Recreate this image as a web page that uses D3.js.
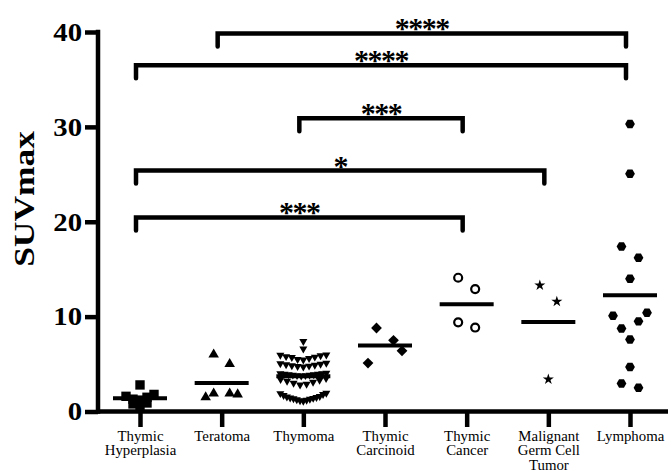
<!DOCTYPE html>
<html>
<head>
<meta charset="utf-8">
<script src="https://cdn.jsdelivr.net/npm/d3@7"></script>
<style>
  body { margin: 0; background: #fff; }
  svg { display: block; }
  text { font-family: "Liberation Serif", "Times New Roman", serif; fill: #000; }
</style>
</head>
<body>
<svg id="chart" width="668" height="473"></svg>
<script>
// ---- data ----
var categories = ["Thymic Hyperplasia", "Teratoma", "Thymoma", "Thymic Carcinoid",
                  "Thymic Cancer", "Malignant Germ Cell Tumor", "Lymphoma"];
var tickLabels = [["Thymic", "Hyperplasia"], ["Teratoma"], ["Thymoma"], ["Thymic", "Carcinoid"],
                  ["Thymic", "Cancer"], ["Malignant", "Germ Cell", "Tumor"], ["Lymphoma"]];

var hyperplasia = [2.8, 1.8, 1.6, 1.5, 1.3, 1.2, 0.9, 0.8, 0.6];
var teratoma = [6.0, 5.0, 1.9, 1.5, 1.9, 1.8];
var thymoma = [7.4, 6.6,
  5.45, 5.5, 5.6, 5.7, 5.75, 5.8, 5.9, 5.95, 5.98,
  4.7, 4.75, 4.8, 4.85, 4.9, 4.95, 5.0, 5.05, 5.1,
  3.75, 3.8, 3.8, 3.85, 3.85, 3.9, 3.9, 3.95, 3.95, 4.0, 4.0, 4.05,
  2.8, 2.9, 3.0, 3.1, 3.2, 3.3, 3.4, 3.5,
  1.1, 1.15, 1.2, 1.25, 1.3, 1.35, 1.4, 1.45, 1.5, 1.55, 1.6, 1.7, 1.8, 1.9, 1.95];
var carcinoid = [8.8, 7.5, 6.4, 5.1];
var cancer = [14.1, 12.9, 9.4, 8.85];
var germCell = [13.3, 11.6, 3.4];
var lymphoma = [30.3, 25.05, 17.4, 16.2, 14.0, 10.4, 10.1, 9.5, 8.75, 7.6, 4.7, 2.95, 2.5];

var yTicks = [0, 10, 20, 30, 40];

var bracketFrom  = ["Teratoma", "Thymic Hyperplasia", "Thymoma", "Thymic Hyperplasia", "Thymic Hyperplasia"];
var bracketTo    = ["Lymphoma", "Lymphoma", "Thymic Cancer", "Malignant Germ Cell Tumor", "Thymic Cancer"];
var bracketLevel = [39.85, 36.5, 30.9, 25.4, 20.45];
var bracketStars = ["****", "****", "***", "*", "***"];

// ---- marker styles, one per category ----
var hexagon = {
  draw: function (ctx, size) {
    var r = Math.sqrt(2 * size / (3 * Math.sqrt(3)));
    for (var i = 0; i < 6; i++) {
      var a = i * Math.PI / 3;
      if (i === 0) ctx.moveTo(r * Math.cos(a), r * Math.sin(a));
      else ctx.lineTo(r * Math.cos(a), r * Math.sin(a));
    }
    ctx.closePath();
  }
};
// mode "rows": dense rows, lowest value in the middle; "chain": sparse pairs / small groups
var markers = [
  {type: d3.symbolSquare,   size: 88, rot: 0,   mode: "rows",  gap: 2.5,  step: 7},
  {type: d3.symbolTriangle, size: 48, rot: 0,   mode: "chain", gap: 16.5, step: 8},
  {type: d3.symbolTriangle, size: 28, rot: 180, mode: "rows",  gap: 2,    step: 6.5},
  {type: d3.symbolSquare,   size: 58, rot: 45,  mode: "chain", gap: 16.5, step: 8.5},
  {type: d3.symbolCircle,   size: 50, rot: 0,   mode: "chain", gap: 16.5, step: 8.5, open: true},
  {type: d3.symbolStar,     size: 38, rot: 0,   mode: "chain", gap: 16.5, step: 8.5},
  {type: hexagon,           size: 62, rot: 0,   mode: "chain", gap: 16.5, step: 8.5}
];
var seriesValues = [hyperplasia, teratoma, thymoma, carcinoid, cancer, germCell, lymphoma];

var svg = d3.select("#chart");
var W = 668, H = 473;

var x = d3.scalePoint().domain(categories).range([140, 630]);
var xBracket = d3.scalePoint().domain(categories).range([136, 626]);
var y = d3.scaleLinear().domain([0, 40]).range([411.5, 32]);

var AXIS_W = 4.5;

// spread points of one column sideways (dot plot)
function spread(values, opt) {
  var pts = values.map(function (v) { return {v: v, py: y(v)}; })
    .sort(function (a, b) { return a.v - b.v; });
  var groups = [];
  pts.forEach(function (p, i) {
    if (i > 0 && pts[i - 1].py - p.py < opt.gap) groups[groups.length - 1].push(p);
    else groups.push([p]);
  });
  var maxW = 46;
  groups.forEach(function (g) {
    var n = g.length, slots = [];
    if (opt.mode === "chain" && n % 2 === 0) g = g.slice().reverse();
    for (var k = 0; k < n; k++) {
      var s;
      if (n % 2 === 1) {
        s = k === 0 ? 0 : (k % 2 ? -1 : 1) * Math.ceil(k / 2);
      } else if (opt.mode === "rows") {
        s = (k % 2 === 0 ? -1 : 1) * (Math.floor(k / 2) + 0.5);
      } else {
        var p = Math.floor(k / 2);
        var sign = (p % 2 === 0) ? (k % 2 === 0 ? -1 : 1) : (k % 2 === 0 ? 1 : -1);
        s = sign * (p + 1);
      }
      slots.push(s);
    }
    var span = d3.max(slots) - d3.min(slots);
    var step = span > 0 ? Math.min(opt.step, maxW / span) : 0;
    g.forEach(function (p, k) { p.dx = slots[k] * step; });
  });
  return pts;
}

// ---- y axis ----
var yAxis = svg.append("g")
  .attr("transform", "translate(98,0)")
  .call(d3.axisLeft(y).tickValues(yTicks).tickSize(13).tickSizeOuter(0));
yAxis.select(".domain").remove();
yAxis.selectAll(".tick line").attr("stroke", "#000").attr("stroke-width", AXIS_W);
yAxis.selectAll(".tick text")
  .attr("x", 0).attr("dy", "0.33em")
  .attr("transform", "translate(-16,0) scale(1.15,1)")
  .style("font-family", '"Liberation Serif", serif')
  .style("font-weight", "bold").style("font-size", "25px")
  .attr("fill", "#000");

svg.append("line")
  .attr("x1", 98).attr("x2", 98).attr("y1", y(40)).attr("y2", y(0))
  .attr("stroke", "#000").attr("stroke-width", AXIS_W).attr("stroke-linecap", "square");

svg.append("text")
  .attr("transform", "translate(34,199) rotate(-90) scale(1.18,1)")
  .attr("text-anchor", "middle")
  .style("font-weight", "bold").style("font-size", "30px")
  .text("SUVmax");

// ---- x axis ----
var xAxis = svg.append("g")
  .attr("transform", "translate(0," + y(0) + ")")
  .call(d3.axisBottom(x).tickSize(15.5).tickSizeOuter(0).tickFormat(""));
xAxis.select(".domain").remove();
xAxis.selectAll(".tick line").attr("stroke", "#000").attr("stroke-width", AXIS_W);
xAxis.selectAll(".tick text").remove();
xAxis.selectAll(".tick").each(function (d, i) {
  var t = d3.select(this).append("text")
    .attr("text-anchor", "middle")
    .attr("transform", "scale(1.06,1)")
    .style("font-size", "14px");
  tickLabels[i].forEach(function (line, j) {
    t.append("tspan").attr("x", 0).attr("y", 29.5 + j * 14.5).text(line);
  });
});

svg.append("line")
  .attr("x1", 98).attr("x2", W).attr("y1", y(0)).attr("y2", y(0))
  .attr("stroke", "#000").attr("stroke-width", AXIS_W);

// ---- points and means ----
seriesValues.forEach(function (vals, i) {
  var m = markers[i];
  var cx = x(categories[i]);
  var pts = spread(vals, m);
  var sym = d3.symbol().type(m.type).size(m.size);
  svg.append("g").selectAll("path")
    .data(pts)
    .enter().append("path")
    .attr("d", sym)
    .attr("transform", function (p) {
      return "translate(" + (cx + p.dx) + "," + p.py + ")" + (m.rot ? " rotate(" + m.rot + ")" : "");
    })
    .attr("fill", m.open ? "#fff" : "#000")
    .attr("stroke", m.open ? "#000" : "none")
    .attr("stroke-width", m.open ? 2.2 : 0);

  var mean = d3.mean(vals);
  svg.append("line")
    .attr("x1", cx - 27).attr("x2", cx + 27)
    .attr("y1", y(mean)).attr("y2", y(mean))
    .attr("stroke", "#000").attr("stroke-width", 4);
});

// ---- significance brackets ----
var LEG = 13;
bracketLevel.forEach(function (lv, i) {
  var x1 = xBracket(bracketFrom[i]), x2 = xBracket(bracketTo[i]), by = y(lv);
  svg.append("path")
    .attr("d", "M" + x1 + "," + (by + LEG) + "V" + by + "H" + x2 + "V" + (by + LEG))
    .attr("fill", "none").attr("stroke", "#000").attr("stroke-width", 4.5)
    .attr("stroke-linecap", "round");
  svg.append("text")
    .attr("x", (x1 + x2) / 2).attr("y", by + 5)
    .attr("text-anchor", "middle")
    .style("font-size", "30px").style("font-weight", "bold")
    .style("letter-spacing", "-1.5px")
    .text(bracketStars[i]);
});
</script>
</body>
</html>
